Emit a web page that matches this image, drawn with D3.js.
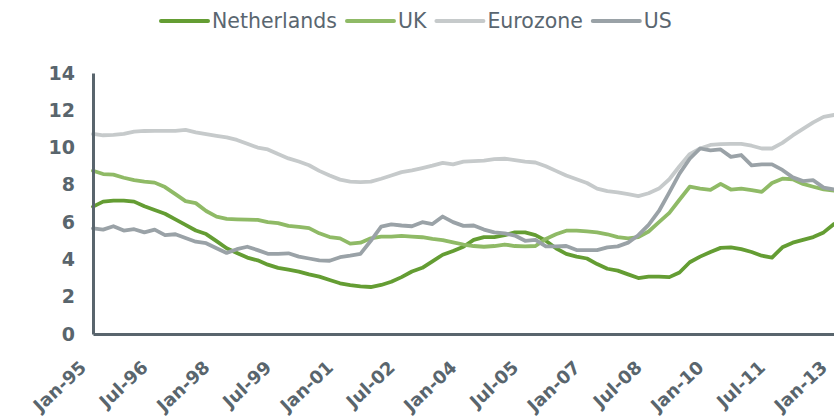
<!DOCTYPE html>
<html>
<head>
<meta charset="utf-8">
<script src="https://cdn.jsdelivr.net/npm/d3@7"></script>
<style>
  body { margin: 0; background: #fff; }
  svg { display: block; font-family: "DejaVu Sans", Verdana, sans-serif; }
</style>
</head>
<body>
<svg id="chart" width="834" height="420"></svg>
<script>
// unemployment rate, %, quarterly readings Jan-95 .. Jan-13
const startMonth = "1995-01";
const endMonth = "2013-01";

const netherlands = [6.83,7.1,7.15,7.15,7.1,6.85,6.65,6.45,6.15,5.85,5.55,5.36,4.98,4.6,4.35,4.1,3.95,3.72,3.55,3.45,3.35,3.2,3.08,2.9,2.72,2.62,2.55,2.52,2.63,2.8,3.05,3.35,3.55,3.9,4.25,4.45,4.68,5.05,5.2,5.2,5.3,5.45,5.45,5.3,5.0,4.6,4.3,4.15,4.05,3.75,3.5,3.4,3.2,3.0,3.08,3.08,3.05,3.3,3.85,4.15,4.4,4.62,4.65,4.55,4.4,4.2,4.1,4.65,4.9,5.05,5.2,5.45,5.9];
const uk = [8.76,8.58,8.55,8.38,8.25,8.17,8.12,7.88,7.5,7.13,7.02,6.6,6.3,6.18,6.15,6.13,6.12,6.0,5.95,5.8,5.75,5.68,5.4,5.2,5.13,4.85,4.9,5.13,5.22,5.22,5.26,5.22,5.19,5.1,5.04,4.92,4.8,4.72,4.68,4.72,4.8,4.72,4.7,4.72,5.1,5.35,5.54,5.54,5.5,5.45,5.35,5.2,5.13,5.2,5.5,6.0,6.5,7.2,7.9,7.8,7.73,8.05,7.75,7.8,7.72,7.62,8.1,8.33,8.3,8.05,7.9,7.76,7.69];
const eurozone = [10.73,10.66,10.68,10.73,10.85,10.89,10.9,10.9,10.9,10.95,10.82,10.72,10.63,10.55,10.41,10.2,10.0,9.9,9.65,9.42,9.25,9.05,8.75,8.5,8.28,8.17,8.15,8.17,8.33,8.5,8.68,8.78,8.9,9.03,9.18,9.1,9.25,9.27,9.3,9.38,9.4,9.33,9.25,9.2,9.0,8.75,8.5,8.3,8.1,7.8,7.66,7.6,7.5,7.4,7.55,7.8,8.3,9.0,9.65,9.95,10.14,10.18,10.2,10.2,10.1,9.95,9.95,10.25,10.65,11.0,11.35,11.65,11.75];
const us = [5.67,5.6,5.78,5.55,5.62,5.45,5.6,5.3,5.35,5.15,4.95,4.87,4.6,4.35,4.55,4.68,4.5,4.3,4.3,4.33,4.15,4.05,3.95,3.93,4.12,4.2,4.3,5.0,5.76,5.88,5.82,5.78,6.0,5.9,6.3,6.0,5.8,5.82,5.6,5.45,5.4,5.28,5.0,5.05,4.7,4.7,4.72,4.5,4.5,4.5,4.65,4.7,4.9,5.3,5.85,6.6,7.6,8.6,9.4,9.95,9.85,9.9,9.5,9.6,9.05,9.1,9.1,8.8,8.4,8.2,8.25,7.85,7.76];

const seriesNames = ["Netherlands", "UK", "Eurozone", "US"];
const seriesColors = ["#649d33", "#8fba66", "#c6cacb", "#9aa2a7"];
const xTickLabels = ["Jan-95","Jul-96","Jan-98","Jul-99","Jan-01","Jul-02","Jan-04","Jul-05","Jan-07","Jul-08","Jan-10","Jul-11","Jan-13"];
const yTicks = [0, 2, 4, 6, 8, 10, 12, 14];

const parseMonth = d3.timeParse("%Y-%m");
const parseTick = d3.timeParse("%b-%y");
const dates = d3.timeMonth.every(3).range(parseMonth(startMonth), d3.timeMonth.offset(parseMonth(endMonth), 1));

const svg = d3.select("#chart");
const fontFamily = '"DejaVu Sans", Verdana, sans-serif';
const axisColor = "#59656d";
const margin = { top: 73, right: 0, bottom: 86, left: 93 };
const width = 834 - margin.left - margin.right;
const height = 420 - margin.top - margin.bottom;

const x = d3.scaleTime()
  .domain([parseMonth(startMonth), parseMonth(endMonth)])
  .range([0, width]);

const y = d3.scaleLinear()
  .domain([0, 14])
  .range([height, 0]);

const g = svg.append("g")
  .attr("transform", "translate(" + margin.left + "," + margin.top + ")");

// lines
const line = d3.line()
  .x((d, i) => x(dates[i]))
  .y(d => y(d));

[netherlands, uk, eurozone, us].forEach((vals, k) => {
  g.append("path")
    .datum(vals)
    .attr("fill", "none")
    .attr("stroke", seriesColors[k])
    .attr("stroke-width", 3.8)
    .attr("stroke-linejoin", "round")
    .attr("stroke-linecap", "round")
    .attr("d", line);
});

// y axis
const yAxis = g.append("g")
  .call(d3.axisLeft(y).tickValues(yTicks).tickSize(0).tickPadding(18));
yAxis.attr("font-family", fontFamily);
yAxis.select(".domain").attr("stroke", axisColor).attr("stroke-width", 3);
yAxis.selectAll("text")
  .attr("fill", axisColor)
  .style("font-size", "19px")
  .style("font-weight", "bold");

// x axis
const xAxis = g.append("g")
  .attr("transform", "translate(0," + height + ")")
  .call(d3.axisBottom(x).tickValues(xTickLabels.map(parseTick)).tickSize(0).tickFormat(d3.timeFormat("%b-%y")));
xAxis.attr("font-family", fontFamily);
xAxis.select(".domain").attr("stroke", axisColor).attr("stroke-width", 3);
xAxis.selectAll("text")
  .attr("fill", axisColor)
  .attr("y", 0)
  .attr("dy", 0)
  .attr("transform", "translate(-6,35) rotate(-43)")
  .style("text-anchor", "end")
  .style("font-size", "18px")
  .style("font-weight", "bold");

// legend
const legend = svg.append("g").attr("transform", "translate(161,21)");
let lx = 0;
seriesNames.forEach((name, k) => {
  legend.append("line")
    .attr("x1", lx).attr("x2", lx + 47)
    .attr("y1", 0).attr("y2", 0)
    .attr("stroke", seriesColors[k])
    .attr("stroke-width", 4)
    .attr("stroke-linecap", "round");
  const t = legend.append("text")
    .attr("x", lx + 51)
    .attr("y", 0)
    .attr("dy", "0.36em")
    .attr("fill", "#5a6670")
    .style("font-size", "20.5px")
    .text(name);
  lx += 51 + t.node().getComputedTextLength() + 10;
});
</script>
</body>
</html>
